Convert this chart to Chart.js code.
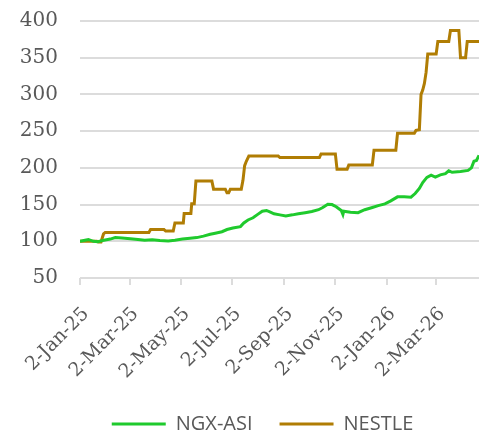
<!DOCTYPE html>
<html>
<head>
<meta charset="utf-8">
<script src="https://cdn.jsdelivr.net/npm/chart.js@4/dist/chart.umd.min.js"></script>
<style>
  html, body { margin: 0; padding: 0; background: #fff; }
  #wrap { width: 479px; height: 433px; }
</style>
</head>
<body>
<div id="wrap"><canvas id="chart"></canvas></div>
<script>
/* ====================
   DATA
==================== */
const START_DATE = "2025-01-02";
const END_DATE = "2026-04-22";

const tickDates = ["2025-01-02", "2025-03-02", "2025-05-02", "2025-07-02",
  "2025-09-02", "2025-11-02", "2026-01-02", "2026-03-02"];
const tickLabels = ["2-Jan-25", "2-Mar-25", "2-May-25", "2-Jul-25",
  "2-Sep-25", "2-Nov-25", "2-Jan-26", "2-Mar-26"];

const yTicks = [50, 100, 150, 200, 250, 300, 350, 400];

const ngxDates = ["2025-01-02", "2025-01-08", "2025-01-12", "2025-01-18", "2025-01-23",
  "2025-01-29", "2025-02-07", "2025-02-13", "2025-02-21", "2025-03-03", "2025-03-12",
  "2025-03-20", "2025-03-29", "2025-04-07", "2025-04-17", "2025-04-25", "2025-05-04",
  "2025-05-13", "2025-05-21", "2025-05-29", "2025-06-06", "2025-06-12", "2025-06-20",
  "2025-06-26", "2025-07-03", "2025-07-12", "2025-07-16", "2025-07-21", "2025-07-27",
  "2025-08-02", "2025-08-07", "2025-08-12", "2025-08-16", "2025-08-21", "2025-08-28",
  "2025-09-04", "2025-09-12", "2025-09-19", "2025-09-27", "2025-10-05", "2025-10-13",
  "2025-10-18", "2025-10-24", "2025-10-29", "2025-11-03", "2025-11-09", "2025-11-11",
  "2025-11-12", "2025-11-20", "2025-11-29", "2025-12-07", "2025-12-16", "2025-12-23",
  "2025-12-31", "2026-01-07", "2026-01-15", "2026-01-23", "2026-01-31", "2026-02-05",
  "2026-02-10", "2026-02-14", "2026-02-19", "2026-02-24", "2026-03-01", "2026-03-07",
  "2026-03-13", "2026-03-17", "2026-03-21", "2026-03-31", "2026-04-09", "2026-04-13",
  "2026-04-16", "2026-04-19", "2026-04-22"];
const ngxValues = [100, 101.5, 102.5, 100, 99.5,
  101, 103, 105, 104.5, 103.5, 102.5,
  101.5, 102, 101, 100.5, 101.5, 103,
  104, 105, 107, 109.5, 111, 113,
  116, 118, 120, 125, 129, 132,
  137, 141, 142, 140, 137.5, 136,
  134.5, 136, 137.5, 139, 140.5, 143,
  146, 150.5, 150, 147, 142, 136.5,
  141, 139.5, 139, 143, 146, 148.5,
  151, 155, 160.5, 160.5, 160, 165,
  172, 180, 187, 190, 187.5, 190.5,
  192, 196, 194, 195, 196.5, 200,
  209, 210, 217];

const nestleDates = ["2025-01-02", "2025-01-22", "2025-01-24", "2025-01-27", "2025-01-30",
  "2025-02-01", "2025-03-25", "2025-03-27", "2025-04-12", "2025-04-14", "2025-04-23",
  "2025-04-25", "2025-05-05", "2025-05-06", "2025-05-14", "2025-05-15", "2025-05-18",
  "2025-05-20", "2025-06-08", "2025-06-10", "2025-06-24", "2025-06-26", "2025-06-28",
  "2025-06-30", "2025-07-13", "2025-07-15", "2025-07-17", "2025-07-19", "2025-07-22",
  "2025-08-26", "2025-08-28", "2025-10-14", "2025-10-16", "2025-11-02", "2025-11-04",
  "2025-11-16", "2025-11-18", "2025-12-16", "2025-12-18", "2026-01-13", "2026-01-15",
  "2026-02-04", "2026-02-06", "2026-02-10", "2026-02-12", "2026-02-14", "2026-02-16",
  "2026-02-18", "2026-02-20", "2026-03-02", "2026-03-04", "2026-03-17", "2026-03-19",
  "2026-03-29", "2026-03-31", "2026-04-06", "2026-04-08", "2026-04-22"];
const nestleValues = [100, 100, 99, 99, 110,
  112, 112, 116, 116, 114, 114,
  125, 125, 138, 138, 151, 151,
  182, 182, 171, 171, 166, 166,
  171, 171, 183, 203, 209, 216,
  216, 214, 214, 219, 219, 198,
  198, 204, 204, 224, 224, 247,
  247, 251, 252, 300, 306, 315,
  330, 355, 355, 372, 372, 387,
  387, 350, 350, 372, 372];

/* ====================
   HELPERS
==================== */
function dayOf(dateStr) {
  return (new Date(dateStr) - new Date(START_DATE)) / 86400000;
}

function toPoints(dates, values) {
  return dates.map((d, i) => ({ x: dayOf(d), y: values[i] }));
}

const tickDays = tickDates.map(dayOf);

// legend sits a bit right of the canvas centre, like the original
const shiftLegend = {
  id: "shiftLegend",
  afterLayout: chart => {
    chart.legend.left += 23;
    chart.legend.right += 23;
  }
};

/* ====================
   CHART
==================== */
const GRID = "#dcdcdc";
const TEXT = "#595959";

new Chart(document.getElementById("chart"), {
  type: "line",
  data: {
    datasets: [
      {
        label: "NGX-ASI",
        data: toPoints(ngxDates, ngxValues),
        borderColor: "#1fca2d",
        backgroundColor: "#1fca2d",
        borderWidth: 3,
        pointRadius: 0,
        tension: 0
      },
      {
        label: "NESTLE",
        data: toPoints(nestleDates, nestleValues),
        borderColor: "#b07d04",
        backgroundColor: "#b07d04",
        borderWidth: 3,
        pointRadius: 0,
        tension: 0
      }
    ]
  },
  plugins: [shiftLegend],
  options: {
    responsive: true,
    maintainAspectRatio: false,
    animation: false,
    layout: { padding: { left: 0, right: 0, top: 21, bottom: -11 } },
    plugins: {
      tooltip: { enabled: false },
      legend: {
        position: "bottom",
        labels: {
          usePointStyle: true,
          pointStyle: "line",
          pointStyleWidth: 54,
          boxHeight: 20,
          padding: 27,
          color: TEXT,
          font: { family: "'Open Sans', sans-serif", size: 20 }
        }
      }
    },
    scales: {
      x: {
        type: "linear",
        min: 0,
        max: dayOf(END_DATE),
        afterBuildTicks: scale => {
          scale.ticks = tickDays.map(v => ({ value: v }));
        },
        afterFit: scale => {
          scale.height = 109;
          scale.paddingLeft = 0;
          scale.paddingRight = 0;
        },
        ticks: {
          autoSkip: false,
          minRotation: 45,
          maxRotation: 45,
          padding: 18,
          labelOffset: 6,
          color: TEXT,
          font: { family: "'DejaVu Serif', serif", size: 19 },
          callback: value => tickLabels[tickDays.indexOf(value)]
        },
        grid: {
          drawOnChartArea: false,
          tickLength: 7,
          color: GRID,
          lineWidth: 2
        },
        border: { display: false }
      },
      y: {
        min: 50,
        max: 400,
        afterBuildTicks: scale => {
          scale.ticks = yTicks.map(v => ({ value: v }));
        },
        afterFit: scale => {
          scale.width = 80;
          scale.paddingTop = 0;
          scale.paddingBottom = 0;
        },
        ticks: {
          padding: 22,
          color: TEXT,
          font: { family: "'DejaVu Serif', serif", size: 20 }
        },
        grid: {
          drawTicks: false,
          color: GRID,
          lineWidth: 2
        },
        border: { display: false }
      }
    }
  }
});
</script>
</body>
</html>
